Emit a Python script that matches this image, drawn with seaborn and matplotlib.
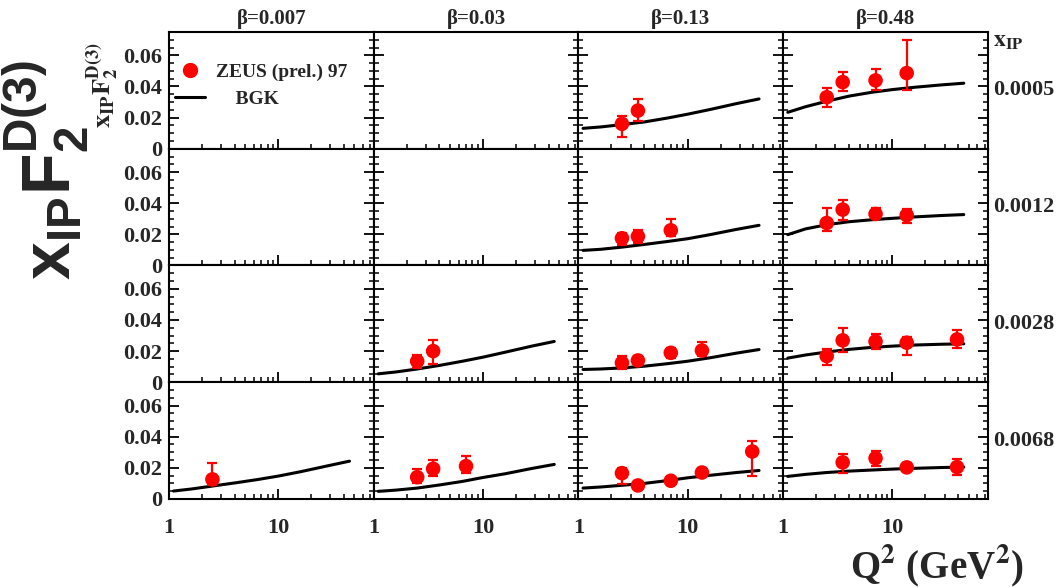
import numpy as np
import pandas as pd
import matplotlib
matplotlib.use("Agg")
import matplotlib.pyplot as plt
import seaborn as sns
from matplotlib.ticker import LogLocator, MultipleLocator, FuncFormatter
from matplotlib.lines import Line2D

# ---------------- data ----------------
betas = ["0.007", "0.03", "0.13", "0.48"]
xips = ["0.0005", "0.0012", "0.0028", "0.0068"]

# BGK curves, sampled Q^2 values
q2_curve = [1.1, 1.6, 2.5, 4, 6.5, 10, 16, 28, 45]
bgk_r1c3 = [0.0131, 0.0140, 0.0155, 0.0172, 0.0197, 0.0222, 0.0252, 0.0290, 0.0320]
bgk_r1c4 = [0.0234, 0.0270, 0.0305, 0.0338, 0.0363, 0.0380, 0.0395, 0.0410, 0.0421]
bgk_r2c3 = [0.0097, 0.0104, 0.0118, 0.0135, 0.0154, 0.0172, 0.0198, 0.0232, 0.0258]
bgk_r2c4 = [0.0198, 0.0235, 0.0262, 0.0281, 0.0294, 0.0303, 0.0312, 0.0321, 0.0327]
bgk_r3c2 = [0.0054, 0.0066, 0.0085, 0.0108, 0.0135, 0.0161, 0.0193, 0.0232, 0.0262]
bgk_r3c3 = [0.0082, 0.0085, 0.0092, 0.0103, 0.0119, 0.0135, 0.0157, 0.0187, 0.0210]
bgk_r3c4 = [0.0155, 0.0175, 0.0194, 0.0211, 0.0224, 0.0232, 0.0239, 0.0244, 0.0247]
bgk_r4c1 = [0.0051, 0.0064, 0.0083, 0.0103, 0.0125, 0.0147, 0.0175, 0.0212, 0.0243]
bgk_r4c2 = [0.0049, 0.0057, 0.0070, 0.0090, 0.0113, 0.0138, 0.0162, 0.0196, 0.0222]
bgk_r4c3 = [0.0070, 0.0077, 0.0088, 0.0100, 0.0118, 0.0136, 0.0152, 0.0170, 0.0183]
bgk_r4c4 = [0.0145, 0.0158, 0.0170, 0.0179, 0.0186, 0.0192, 0.0197, 0.0202, 0.0205]

# ZEUS (prel.) 97 points: Q2, value, lower end, upper end of error bar
zeus_r1c3_q = [2.5, 3.5]
zeus_r1c3_y = [0.0160, 0.0245]
zeus_r1c3_lo = [0.0073, 0.0180]
zeus_r1c3_hi = [0.0210, 0.0320]

zeus_r1c4_q = [2.5, 3.5, 7, 13.5]
zeus_r1c4_y = [0.0331, 0.0428, 0.0439, 0.0486]
zeus_r1c4_lo = [0.0270, 0.0370, 0.0380, 0.0380]
zeus_r1c4_hi = [0.0390, 0.0490, 0.0514, 0.0697]

zeus_r2c3_q = [2.5, 3.5, 7]
zeus_r2c3_y = [0.0175, 0.0187, 0.0226]
zeus_r2c3_lo = [0.0129, 0.0144, 0.0187]
zeus_r2c3_hi = [0.0208, 0.0226, 0.0300]

zeus_r2c4_q = [2.5, 3.5, 7, 13.5]
zeus_r2c4_y = [0.0273, 0.0359, 0.0331, 0.0323]
zeus_r2c4_lo = [0.0220, 0.0295, 0.0311, 0.0273]
zeus_r2c4_hi = [0.0370, 0.0423, 0.0370, 0.0366]

zeus_r3c2_q = [2.5, 3.5]
zeus_r3c2_y = [0.0135, 0.0200]
zeus_r3c2_lo = [0.0092, 0.0114]
zeus_r3c2_hi = [0.0172, 0.0269]

zeus_r3c3_q = [2.5, 3.5, 7, 13.5]
zeus_r3c3_y = [0.0125, 0.0140, 0.0189, 0.0204]
zeus_r3c3_lo = [0.0088, 0.0110, 0.0157, 0.0168]
zeus_r3c3_hi = [0.0168, 0.0168, 0.0217, 0.0260]

zeus_r3c4_q = [2.5, 3.5, 7, 13.5, 39]
zeus_r3c4_y = [0.0168, 0.0269, 0.0262, 0.0254, 0.0275]
zeus_r3c4_lo = [0.0108, 0.0194, 0.0215, 0.0172, 0.0219]
zeus_r3c4_hi = [0.0215, 0.0348, 0.0312, 0.0290, 0.0333]

zeus_r4c1_q = [2.5]
zeus_r4c1_y = [0.0126]
zeus_r4c1_lo = [0.0090]
zeus_r4c1_hi = [0.0234]

zeus_r4c2_q = [2.5, 3.5, 7]
zeus_r4c2_y = [0.0140, 0.0194, 0.0211]
zeus_r4c2_lo = [0.0104, 0.0147, 0.0168]
zeus_r4c2_hi = [0.0193, 0.0253, 0.0273]

zeus_r4c3_q = [2.5, 3.5, 7, 13.5, 39]
zeus_r4c3_y = [0.0166, 0.0087, 0.0117, 0.0170, 0.0305]
zeus_r4c3_lo = [0.0098, 0.0077, 0.0107, 0.0145, 0.0145]
zeus_r4c3_hi = [0.0198, 0.0097, 0.0127, 0.0198, 0.0373]

zeus_r4c4_q = [3.5, 7, 13.5, 39]
zeus_r4c4_y = [0.0235, 0.0262, 0.0203, 0.0205]
zeus_r4c4_lo = [0.0166, 0.0213, 0.0177, 0.0157]
zeus_r4c4_hi = [0.0290, 0.0310, 0.0231, 0.0256]

curves = {
    (0, 2): bgk_r1c3, (0, 3): bgk_r1c4,
    (1, 2): bgk_r2c3, (1, 3): bgk_r2c4,
    (2, 1): bgk_r3c2, (2, 2): bgk_r3c3, (2, 3): bgk_r3c4,
    (3, 0): bgk_r4c1, (3, 1): bgk_r4c2, (3, 2): bgk_r4c3, (3, 3): bgk_r4c4,
}
points = {
    (0, 2): (zeus_r1c3_q, zeus_r1c3_y, zeus_r1c3_lo, zeus_r1c3_hi),
    (0, 3): (zeus_r1c4_q, zeus_r1c4_y, zeus_r1c4_lo, zeus_r1c4_hi),
    (1, 2): (zeus_r2c3_q, zeus_r2c3_y, zeus_r2c3_lo, zeus_r2c3_hi),
    (1, 3): (zeus_r2c4_q, zeus_r2c4_y, zeus_r2c4_lo, zeus_r2c4_hi),
    (2, 1): (zeus_r3c2_q, zeus_r3c2_y, zeus_r3c2_lo, zeus_r3c2_hi),
    (2, 2): (zeus_r3c3_q, zeus_r3c3_y, zeus_r3c3_lo, zeus_r3c3_hi),
    (2, 3): (zeus_r3c4_q, zeus_r3c4_y, zeus_r3c4_lo, zeus_r3c4_hi),
    (3, 0): (zeus_r4c1_q, zeus_r4c1_y, zeus_r4c1_lo, zeus_r4c1_hi),
    (3, 1): (zeus_r4c2_q, zeus_r4c2_y, zeus_r4c2_lo, zeus_r4c2_hi),
    (3, 2): (zeus_r4c3_q, zeus_r4c3_y, zeus_r4c3_lo, zeus_r4c3_hi),
    (3, 3): (zeus_r4c4_q, zeus_r4c4_y, zeus_r4c4_lo, zeus_r4c4_hi),
}

# ---------------- style ----------------
sns.set_theme(style="ticks")
plt.rcParams["font.family"] = ["Liberation Serif", "DejaVu Serif"]
plt.rcParams["font.weight"] = "bold"
plt.rcParams["mathtext.fontset"] = "custom"
plt.rcParams["mathtext.bf"] = "Liberation Sans:bold"
plt.rcParams["mathtext.rm"] = "Liberation Sans:bold"
plt.rcParams["mathtext.it"] = "Liberation Sans:bold"
plt.rcParams["axes.linewidth"] = 1.5

fig, axes = plt.subplots(4, 4, figsize=(10.6, 5.88), dpi=100, sharex=True, sharey=True)
fig.subplots_adjust(left=0.1594, right=0.9321, top=0.9456, bottom=0.1514,
                    wspace=0, hspace=0)

red = "#ff0000"
for r in range(4):
    for c in range(4):
        ax = axes[r, c]
        ax.set_xscale("log")
        ax.set_xlim(1, 75)
        ax.set_ylim(0, 0.075)
        ax.set_facecolor("white")
        for s in ax.spines.values():
            s.set_color("black")
            s.set_linewidth(1.5)
        if (r, c) in curves:
            df = pd.DataFrame({"Q2": q2_curve, "F": curves[(r, c)]})
            sns.lineplot(data=df, x="Q2", y="F", ax=ax, color="black",
                         linewidth=2.2, sort=False, zorder=2)
        if (r, c) in points:
            q, y, lo, hi = [np.asarray(a) for a in points[(r, c)]]
            ax.errorbar(q, y, yerr=[y - lo, hi - y], fmt="none", ecolor=red,
                        elinewidth=1.6, capsize=3.6, capthick=1.6, zorder=3)
            dp = pd.DataFrame({"Q2": q, "F": y})
            sns.scatterplot(data=dp, x="Q2", y="F", ax=ax, color=red, s=110,
                            edgecolor="none", zorder=4)
        ax.set_xlabel("")
        ax.set_ylabel("")
        ax.xaxis.set_major_locator(LogLocator(base=10))
        ax.xaxis.set_minor_locator(LogLocator(base=10, subs=np.arange(2, 10)))
        ax.xaxis.set_major_formatter(FuncFormatter(lambda v, p: f"{v:g}"))
        ax.yaxis.set_major_locator(MultipleLocator(0.02))
        ax.yaxis.set_minor_locator(MultipleLocator(0.005))
        ax.yaxis.set_major_formatter(
            FuncFormatter(lambda v, p: "0" if abs(v) < 1e-9 else f"{v:.2f}"))
        ax.tick_params(which="both", direction="in", top=False, bottom=True,
                       left=True, right=True, color="black")
        ax.tick_params(which="major", length=7, width=1.3)
        ax.tick_params(which="minor", length=3.5, width=1.1)
        ax.tick_params(axis="y", which="major", labelsize=16, pad=5)
        ax.tick_params(axis="x", which="major", labelsize=16, pad=14)
        ax.tick_params(axis="x", which="minor", labelbottom=False)
        for lab in ax.get_xticklabels() + ax.get_yticklabels():
            lab.set_fontweight("bold")

for c in range(4):
    axes[0, c].set_title(f"β={betas[c]}", fontsize=15, fontweight="bold", pad=6)

for r in range(4):
    axes[r, 3].text(1.025, 0.5, xips[r], transform=axes[r, 3].transAxes,
                    ha="left", va="center", fontsize=16, fontweight="bold")
axes[0, 3].text(1.025, 0.92, r"$\mathbf{x_{IP}}$", transform=axes[0, 3].transAxes,
                ha="left", va="center", fontsize=17, math_fontfamily="stix")

# legend
handles = [Line2D([], [], marker="o", color=red, ls="none", markersize=10),
           Line2D([], [], color="black", lw=2.2)]
leg = axes[0, 0].legend(handles, ["ZEUS (prel.) 97", "    BGK"],
                        loc="center left", bbox_to_anchor=(0.03, 0.54),
                        frameon=False, handlelength=1.55,
                        handletextpad=0.55, labelspacing=0.45,
                        borderpad=0, borderaxespad=0,
                        prop={"weight": "bold", "size": 14})

# axis labels
fig.text(0.043, 0.71, r"$\mathbf{x_{IP}F_{2}^{D(3)}}$", rotation=90,
         ha="center", va="center", fontsize=49)
fig.text(0.097, 0.855, r"$\mathbf{x_{IP}F_{2}^{D(3)}}$", rotation=90,
         ha="center", va="center", fontsize=19, math_fontfamily="stix")
fig.text(0.884, 0.038, r"Q$^{\mathbf{2}}$ (GeV$^{\mathbf{2}}$)", ha="center",
         va="center", fontsize=28, fontweight="bold", math_fontfamily="stix")

fig.patch.set_facecolor("white")
fig.savefig("out.png", dpi=100, facecolor="white")
